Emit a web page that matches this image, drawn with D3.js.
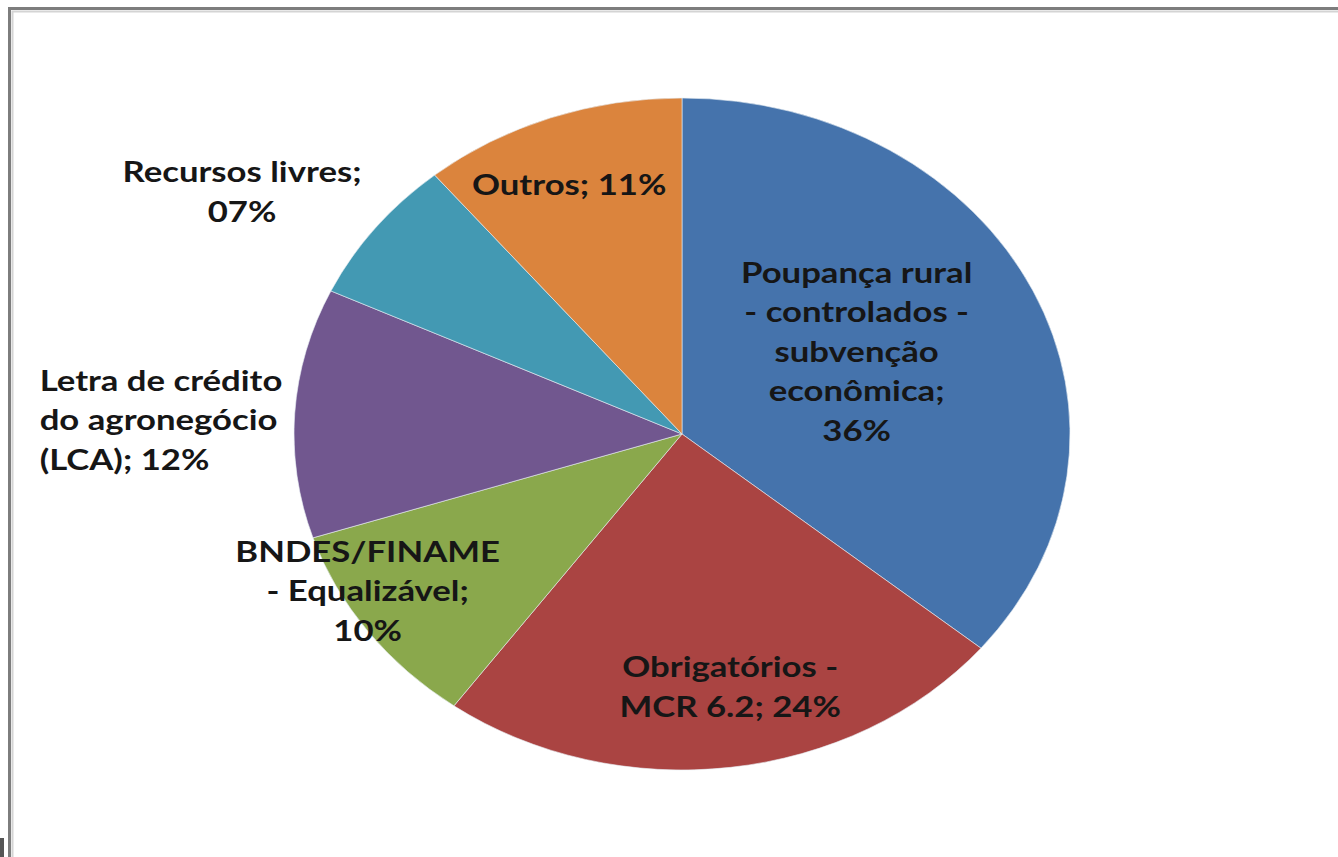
<!DOCTYPE html>
<html lang="pt">
<head>
	<meta charset="utf-8">
	<title>fontes de recursos</title>
	<script src="https://d3js.org/d3.v7.min.js"></script>
	<style>
		body{ margin:0; background:#fff; }
		.lbl{ font-family:Lato, "Open Sans", sans-serif; font-weight:bold; font-size:28px; fill:#161616; }
	</style>
</head>
<body>
<div id="chart"></div>

<script>
// data
let categories=["Poupança rural - controlados - subvenção econômica","Obrigatórios - MCR 6.2","BNDES/FINAME - Equalizável","Letra de crédito do agronegócio (LCA)","Recursos livres","Outros"];
let values=[36,24,10,12,7,11];
let valueLabels=["36%","24%","10%","12%","07%","11%"];
let labelLines=[
	["Poupança rural","- controlados -","subvenção","econômica;","36%"],
	["Obrigatórios -","MCR 6.2; 24%"],
	["BNDES/FINAME","- Equalizável;","10%"],
	["Letra de crédito","do agronegócio","(LCA); 12%"],
	["Recursos livres;","07%"],
	["Outros; 11%"]
];
let colors=["#4573AC","#AA4442","#8AA84C","#71578F","#4399B3","#DB843D"];

// layout: nudges of each label from the slice point at 0.6 radius
let nudge=[[-36,4],[19,53],[-126,39],[-410,-1],[-256,-118],[-34,-59]];
let anchors=["middle","middle","middle","start","middle","middle"];

let W=1338,H=857;
let cx=682,cy=434,rx=388,ry=336;
let lineH=39.5;
let stretch=1.24; // picture is stretched sideways

let svg=d3.select("#chart").append("svg").attr("width",W).attr("height",H);

// frame
svg.append("rect").attr("x",9.5).attr("y",8.5).attr("width",W+20).attr("height",H+20)
	.attr("fill","none").attr("stroke","#7d7d7d").attr("stroke-width",3);
svg.append("rect").attr("x",12.5).attr("y",11.5).attr("width",W+20).attr("height",H+20)
	.attr("fill","none").attr("stroke","#d4d4d4").attr("stroke-width",2);
svg.append("rect").attr("x",0).attr("y",838).attr("width",4).attr("height",19).attr("fill","#555");

let pie=d3.pie().sort(null).value(d=>d);
let arcs=pie(values);
let arc=d3.arc().innerRadius(0).outerRadius(ry);

// ellipse: draw circle of radius ry and stretch it horizontally
let g=svg.append("g").attr("transform","translate("+cx+","+cy+") scale("+(rx/ry)+",1)");
g.selectAll("path")
	.data(arcs)
	.enter()
	.append("path")
	.attr("d",arc)
	.attr("fill",(d,i)=>colors[i])
	.attr("stroke","#e8eef4")
	.attr("stroke-width",0.8)
	.attr("stroke-opacity",0.7);

let lab=svg.append("g");
arcs.forEach((d,i)=>{
	let a=(d.startAngle+d.endAngle)/2;
	let x=cx+rx*0.6*Math.sin(a)+nudge[i][0];
	let y=cy-ry*0.6*Math.cos(a)+nudge[i][1];
	let lines=labelLines[i];
	let t=lab.append("text").attr("class","lbl")
		.attr("text-anchor",anchors[i])
		.attr("transform","translate("+x+","+(y-(lines.length-1)*lineH/2)+") scale("+stretch+",1)");
	lines.forEach((s,j)=>{
		t.append("tspan").attr("x",0).attr("dy",j==0?"0.35em":lineH).text(s);
	});
});
</script>
</body>
</html>
